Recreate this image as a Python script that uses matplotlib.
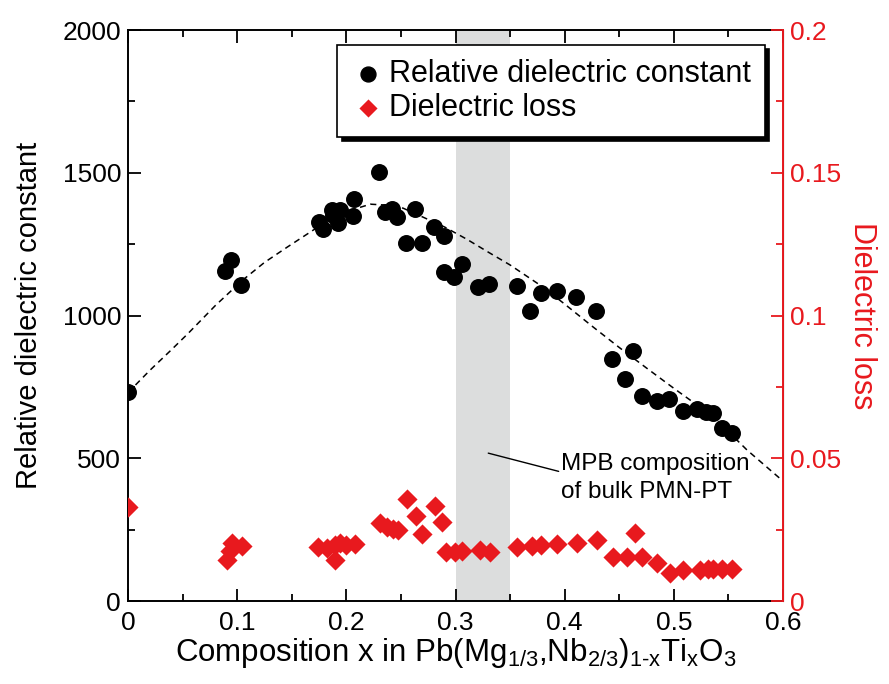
import numpy as np
import matplotlib.pyplot as plt
from matplotlib.ticker import MultipleLocator

plt.rcParams['font.family'] = ['Liberation Sans', 'DejaVu Sans']
plt.rcParams['mathtext.fontset'] = 'custom'
plt.rcParams['mathtext.rm'] = 'Liberation Sans'
plt.rcParams['mathtext.it'] = 'Liberation Sans'

# relative dielectric constant (black circles)
x_eps = [0.0, 0.089, 0.094, 0.1035, 0.175, 0.179, 0.187, 0.188, 0.192, 0.194,
         0.206, 0.207, 0.23, 0.235, 0.242, 0.246, 0.255, 0.263, 0.269, 0.28,
         0.289, 0.289, 0.299, 0.306, 0.321, 0.331, 0.356, 0.368, 0.378, 0.393,
         0.41, 0.429, 0.443, 0.455, 0.4626, 0.471, 0.4845, 0.4956, 0.508, 0.521,
         0.5295, 0.536, 0.544, 0.553]
eps = [731, 1156, 1194, 1107, 1328, 1303, 1370, 1352, 1324, 1370,
       1349, 1408, 1503, 1363, 1373, 1345, 1254, 1373, 1254, 1310,
       1278, 1152, 1135, 1180, 1100, 1110, 1103, 1016, 1079, 1086,
       1065, 1016, 848, 777, 876, 718, 700, 707, 665, 672,
       662, 658, 606, 588]

# dielectric loss (red diamonds)
x_loss = [0.0, 0.0907, 0.093, 0.0955, 0.104, 0.174, 0.182, 0.19, 0.19, 0.194,
          0.2, 0.208, 0.231, 0.237, 0.243, 0.247, 0.2555, 0.2636, 0.269, 0.281,
          0.2876, 0.291, 0.2995, 0.306, 0.322, 0.3316, 0.356, 0.37, 0.378, 0.393,
          0.411, 0.4296, 0.444, 0.457, 0.464, 0.471, 0.4845, 0.4965, 0.508, 0.524,
          0.531, 0.536, 0.544, 0.553]
loss = [0.0329, 0.0144, 0.0175, 0.0203, 0.0193, 0.0189, 0.0186, 0.0196, 0.0144, 0.0203,
        0.0196, 0.0200, 0.0273, 0.0259, 0.0252, 0.0249, 0.0357, 0.0298, 0.0235, 0.0333,
        0.0277, 0.0172, 0.0172, 0.0175, 0.0179, 0.0172, 0.0189, 0.0193, 0.0196, 0.0200,
        0.0203, 0.0214, 0.0154, 0.0154, 0.0238, 0.0154, 0.0133, 0.0098, 0.0109, 0.0109,
        0.0112, 0.0112, 0.0112, 0.0112]

# dashed guide curve
x_fit = [0.0, 0.02, 0.04, 0.055, 0.08, 0.105, 0.125, 0.146, 0.17, 0.19, 0.205,
         0.222, 0.24, 0.252, 0.27, 0.29, 0.31, 0.33, 0.35, 0.38, 0.40, 0.426,
         0.45, 0.475, 0.50, 0.52, 0.545, 0.567, 0.6]
y_fit = [730, 808, 881, 937, 1035, 1124, 1186, 1240, 1300, 1345, 1370,
         1390, 1386, 1376, 1345, 1310, 1268, 1222, 1177, 1100, 1040, 960,
         888, 816, 745, 690, 612, 529, 420]

xticks = [0, 0.1, 0.2, 0.3, 0.4, 0.5, 0.6]
xtick_labels = ['0', '0.1', '0.2', '0.3', '0.4', '0.5', '0.6']
loss_ticks = [0, 0.05, 0.1, 0.15, 0.2]
loss_labels = ['0', '0.05', '0.1', '0.15', '0.2']

red = '#e8191e'

fig = plt.figure(figsize=(8.89, 6.84), dpi=100)
ax = fig.add_axes([0.144, 0.1213, 0.7368, 0.8348])
ax2 = ax.twinx()

ax.axvspan(0.30, 0.35, color='#dcdddd', lw=0, zorder=0)
ax.plot(x_fit, y_fit, ls=(0, (4, 3)), color='black', lw=1.1, zorder=1)
ax.scatter(x_eps, eps, s=125, color='black', zorder=3, label='Relative dielectric constant')
ax2.scatter(x_loss, loss, s=105, marker='D', color=red, lw=0, zorder=3, label='Dielectric loss')

ax.set_xticks(xticks)
ax.set_xticklabels(xtick_labels)
ax.xaxis.set_minor_locator(MultipleLocator(0.05))
ax.yaxis.set_major_locator(MultipleLocator(500))
ax.yaxis.set_minor_locator(MultipleLocator(250))
ax2.set_yticks(loss_ticks)
ax2.set_yticklabels(loss_labels)
ax2.yaxis.set_minor_locator(MultipleLocator(0.025))
ax.set_xlim(0, 0.6)
ax.set_ylim(0, 2000)
ax2.set_ylim(0, 0.2)

ax.tick_params(which='both', direction='in', top=True, right=False, width=1.3, labelsize=19, pad=5)
ax.tick_params(axis='x', which='both', pad=7)
ax.tick_params(which='major', length=9)
ax.tick_params(which='minor', length=5)
ax2.tick_params(which='both', direction='in', colors=red, width=1.3, labelsize=19, pad=5)
ax2.tick_params(which='major', length=9)
ax2.tick_params(which='minor', length=5)

for s in ['left', 'bottom', 'top']:
    ax.spines[s].set_linewidth(1.4)
ax2.spines['right'].set_color(red)
ax2.spines['right'].set_linewidth(1.4)
for s in ['left', 'bottom', 'top']:
    ax2.spines[s].set_visible(False)

ax.set_xlabel(r'Composition x in Pb(Mg$_{1/3}$,Nb$_{2/3}$)$_{1\text{-}\mathrm{x}}$Ti$_\mathrm{x}$O$_3$',
              fontsize=22.5, labelpad=1)
ax.set_ylabel('Relative dielectric constant', fontsize=21, labelpad=14)
ax2.set_ylabel('Dielectric loss', fontsize=22, color=red, rotation=270, labelpad=26)

ax.annotate('MPB composition\nof bulk PMN-PT', xy=(0.33, 518), xytext=(0.397, 431),
            fontsize=17.5, va='center', ha='left', linespacing=1.3,
            arrowprops=dict(arrowstyle='-', color='black', lw=1, shrinkA=0, shrinkB=0,
                            relpos=(0, 0.62)))

h1, l1 = ax.get_legend_handles_labels()
h2, l2 = ax2.get_legend_handles_labels()
leg = ax2.legend(h1 + h2, l1 + l2, loc='upper right', bbox_to_anchor=(0.9725, 0.974),
                 borderaxespad=0, fontsize=22, frameon=True, fancybox=False,
                 shadow={'color': 'black', 'alpha': 1, 'ox': 3, 'oy': -3},
                 handletextpad=0.15, handlelength=1.1, borderpad=0.45, labelspacing=0.15,
                 edgecolor='black', scatterpoints=1)
leg.get_frame().set_linewidth(1.2)
leg.legend_handles[0].set_sizes([115])
leg.legend_handles[1].set_sizes([85])

fig.savefig('out.png', dpi=100)
